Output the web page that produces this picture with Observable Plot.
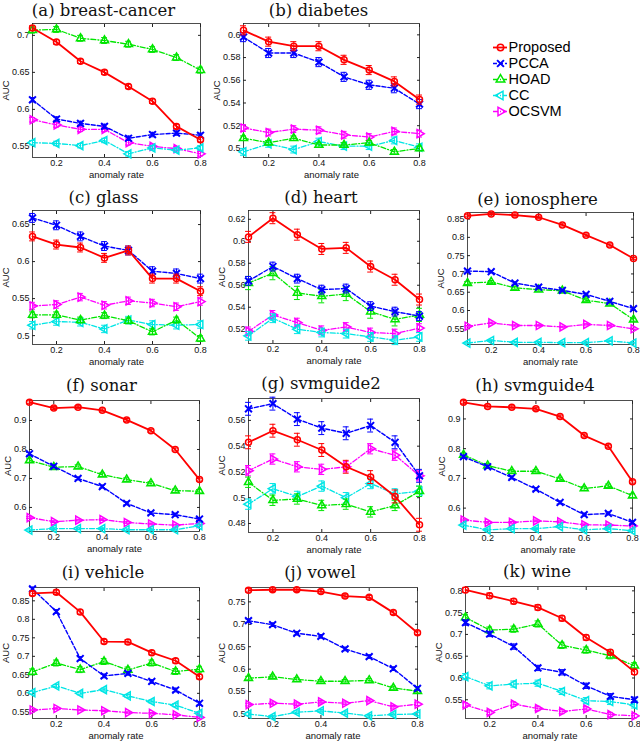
<!DOCTYPE html>
<html><head><meta charset="utf-8">
<script src="https://cdn.jsdelivr.net/npm/d3@7"></script>
<script src="https://cdn.jsdelivr.net/npm/@observablehq/plot@0.6"></script>
<style>
html,body{margin:0;padding:0;background:#fff;}
#chart{position:relative;width:640px;height:742px;overflow:hidden;background:#fff;}
#chart > div, #chart > svg{position:absolute;}
</style></head><body><div id="chart"></div>
<script>
// ---------- data ----------
const rates = [0.1, 0.2, 0.3, 0.4, 0.5, 0.6, 0.7, 0.8];
const xTicks = [0.2, 0.4, 0.6, 0.8];
const methods = ["Proposed", "PCCA", "HOAD", "CC", "OCSVM"];
const panelTitles = ["(a) breast-cancer", "(b) diabetes", "(c) glass", "(d) heart", "(e) ionosphere",
  "(f) sonar", "(g) svmguide2", "(h) svmguide4", "(i) vehicle", "(j) vowel", "(k) wine"];

// AUC values; rows follow `methods` order
const breastCancer = [
  [0.710, 0.691, 0.665, 0.650, 0.631, 0.611, 0.577, 0.559],
  [0.613, 0.587, 0.581, 0.577, 0.561, 0.566, 0.568, 0.565],
  [0.707, 0.708, 0.696, 0.693, 0.688, 0.681, 0.670, 0.653],
  [0.555, 0.554, 0.551, 0.558, 0.540, 0.548, 0.545, 0.548],
  [0.586, 0.579, 0.573, 0.573, 0.555, 0.550, 0.547, 0.540]];
const diabetes = [
  [0.604, 0.594, 0.590, 0.590, 0.578, 0.569, 0.559, 0.543],
  [0.598, 0.584, 0.584, 0.576, 0.563, 0.556, 0.553, 0.539],
  [0.509, 0.505, 0.509, 0.503, 0.503, 0.505, 0.497, 0.500],
  [0.497, 0.504, 0.499, 0.506, 0.502, 0.502, 0.507, 0.501],
  [0.518, 0.514, 0.517, 0.516, 0.512, 0.510, 0.515, 0.513]];
const glass = [
  [0.634, 0.623, 0.619, 0.605, 0.615, 0.577, 0.577, 0.560],
  [0.659, 0.649, 0.634, 0.621, 0.615, 0.587, 0.584, 0.577],
  [0.528, 0.528, 0.521, 0.527, 0.520, 0.505, 0.521, 0.496],
  [0.514, 0.519, 0.518, 0.509, 0.521, 0.515, 0.514, 0.515],
  [0.540, 0.542, 0.552, 0.541, 0.547, 0.544, 0.539, 0.546]];
const heart = [
  [0.604, 0.621, 0.606, 0.593, 0.594, 0.577, 0.565, 0.547],
  [0.564, 0.577, 0.566, 0.556, 0.557, 0.541, 0.536, 0.532],
  [0.562, 0.571, 0.553, 0.550, 0.552, 0.536, 0.529, 0.533],
  [0.514, 0.530, 0.520, 0.517, 0.516, 0.513, 0.510, 0.513],
  [0.518, 0.533, 0.526, 0.519, 0.522, 0.517, 0.516, 0.521]];
const ionosphere = [
  [0.859, 0.864, 0.861, 0.855, 0.834, 0.806, 0.779, 0.742],
  [0.708, 0.706, 0.675, 0.664, 0.655, 0.644, 0.625, 0.605],
  [0.675, 0.678, 0.662, 0.657, 0.654, 0.628, 0.619, 0.575],
  [0.511, 0.518, 0.513, 0.513, 0.512, 0.512, 0.517, 0.511],
  [0.557, 0.566, 0.559, 0.559, 0.555, 0.562, 0.559, 0.550]];
const sonar = [
  [0.963, 0.943, 0.946, 0.935, 0.902, 0.865, 0.800, 0.696],
  [0.785, 0.742, 0.700, 0.672, 0.614, 0.581, 0.575, 0.560],
  [0.762, 0.739, 0.741, 0.713, 0.696, 0.683, 0.658, 0.656],
  [0.522, 0.527, 0.527, 0.527, 0.523, 0.523, 0.523, 0.537],
  [0.565, 0.551, 0.556, 0.558, 0.548, 0.543, 0.539, 0.545]];
const svmguide2 = [
  [0.543, 0.552, 0.545, 0.537, 0.524, 0.516, 0.501, 0.479],
  [0.569, 0.573, 0.561, 0.554, 0.550, 0.556, 0.543, 0.517],
  [0.512, 0.498, 0.499, 0.494, 0.495, 0.489, 0.494, 0.505],
  [0.495, 0.507, 0.501, 0.509, 0.500, 0.511, 0.503, 0.505],
  [0.521, 0.530, 0.524, 0.522, 0.524, 0.538, 0.533, 0.517]];
const svmguide4 = [
  [0.956, 0.942, 0.939, 0.934, 0.908, 0.844, 0.808, 0.689],
  [0.773, 0.739, 0.703, 0.664, 0.619, 0.578, 0.582, 0.552],
  [0.779, 0.743, 0.724, 0.724, 0.698, 0.666, 0.675, 0.642],
  [0.543, 0.527, 0.531, 0.531, 0.538, 0.527, 0.531, 0.524],
  [0.560, 0.552, 0.552, 0.557, 0.554, 0.544, 0.543, 0.540]];
const vehicle = [
  [0.870, 0.873, 0.820, 0.740, 0.739, 0.710, 0.688, 0.645],
  [0.882, 0.821, 0.694, 0.647, 0.654, 0.632, 0.609, 0.573],
  [0.658, 0.682, 0.664, 0.686, 0.663, 0.682, 0.659, 0.665],
  [0.602, 0.620, 0.600, 0.610, 0.593, 0.578, 0.568, 0.546],
  [0.555, 0.559, 0.555, 0.553, 0.548, 0.546, 0.542, 0.535]];
const vowel = [
  [0.776, 0.777, 0.777, 0.773, 0.763, 0.760, 0.726, 0.681],
  [0.708, 0.699, 0.680, 0.673, 0.645, 0.628, 0.601, 0.557],
  [0.580, 0.583, 0.577, 0.573, 0.573, 0.575, 0.558, 0.551],
  [0.500, 0.494, 0.504, 0.507, 0.502, 0.496, 0.499, 0.500],
  [0.521, 0.524, 0.522, 0.527, 0.524, 0.530, 0.516, 0.522]];
const wine = [
  [0.802, 0.789, 0.776, 0.762, 0.737, 0.693, 0.659, 0.614],
  [0.727, 0.701, 0.672, 0.623, 0.613, 0.582, 0.558, 0.550],
  [0.739, 0.710, 0.712, 0.724, 0.675, 0.664, 0.651, 0.628],
  [0.603, 0.582, 0.586, 0.588, 0.569, 0.548, 0.546, 0.538],
  [0.538, 0.521, 0.540, 0.530, 0.523, 0.529, 0.516, 0.513]];

// error bar half-widths per panel, per method
const errBars = [
  [0.003, 0.003, 0.004, 0.003, 0.003],
  [0.004, 0.004, 0.002, 0.003, 0.003],
  [0.006, 0.006, 0.004, 0.005, 0.005],
  [0.005, 0.004, 0.006, 0.004, 0.004],
  [0.003, 0.003, 0.004, 0.002, 0.002],
  [0.005, 0.005, 0.006, 0.003, 0.003],
  [0.005, 0.005, 0.004, 0.004, 0.004],
  [0.005, 0.005, 0.006, 0.003, 0.003],
  [0.006, 0.005, 0.008, 0.004, 0.002],
  [0.004, 0.004, 0.004, 0.003, 0.003],
  [0.006, 0.006, 0.007, 0.007, 0.005]];

// y axis limits and tick values
const yLimits = [[0.535, 0.716], [0.492, 0.610], [0.488, 0.669], [0.507, 0.628], [0.507, 0.868],
  [0.517, 0.969], [0.473, 0.577], [0.518, 0.962], [0.532, 0.886], [0.490, 0.782], [0.507, 0.810]];
const yTickValues = [
  [0.55, 0.6, 0.65, 0.7],
  [0.5, 0.52, 0.54, 0.56, 0.58, 0.6],
  [0.5, 0.55, 0.6, 0.65],
  [0.52, 0.54, 0.56, 0.58, 0.6, 0.62],
  [0.55, 0.6, 0.65, 0.7, 0.75, 0.8, 0.85],
  [0.6, 0.7, 0.8, 0.9],
  [0.48, 0.5, 0.52, 0.54, 0.56],
  [0.6, 0.7, 0.8, 0.9],
  [0.55, 0.6, 0.65, 0.7, 0.75, 0.8, 0.85],
  [0.5, 0.55, 0.6, 0.65, 0.7, 0.75],
  [0.55, 0.6, 0.65, 0.7, 0.75, 0.8]];

const panelData = [breastCancer, diabetes, glass, heart, ionosphere, sonar, svmguide2, svmguide4, vehicle, vowel, wine];

// ---------- layout & style ----------
const frames = [ // plot area [left, top, right, bottom] in page pixels
  [32, 23, 200, 157], [243, 23, 419, 157],
  [32, 210, 200, 344], [248, 210, 419, 343], [467, 212, 633, 344],
  [29, 400, 199, 531], [248, 398, 419, 532], [463, 400, 632, 532],
  [32, 587, 199, 718], [248, 587, 417, 718], [465, 586, 634, 718]];
const colors = ["#ff0000", "#0000ff", "#00e600", "#00e5e5", "#ff00ff"];
const dashes = [null, "4,2", "5,2,1,2", "5,2,1,2", "5,2,1,2"];
const lineWidths = [1.8, 1.4, 1.3, 1.3, 1.3];
const sqrt3 = Math.sqrt(3);
const triRight = {draw(c, size) { const s = Math.sqrt(size / (sqrt3 * 3)); c.moveTo(2 * s, 0); c.lineTo(-s, -sqrt3 * s); c.lineTo(-s, sqrt3 * s); c.closePath(); }};
const triLeft = {draw(c, size) { const s = Math.sqrt(size / (sqrt3 * 3)); c.moveTo(-2 * s, 0); c.lineTo(s, -sqrt3 * s); c.lineTo(s, sqrt3 * s); c.closePath(); }};
const symbols = ["circle", "times", "triangle", triLeft, triRight];
const FONT = "'Liberation Sans', Arial, Helvetica, sans-serif";
const SERIF = "'DejaVu Serif', serif";
const CAP = 0.012;

const chart = document.getElementById("chart");
const textW = s => [...s].reduce((a, c) => a + (c === "." ? 2.5 : 5.0), 0);

function makePanel(i) {
  const [L, T, R, B] = frames[i];
  const ML = 42, MR = 10, MT = 32, MB = 30;
  const yt = yTickValues[i];
  const labW = Math.max(...yt.map(v => textW(String(v))));
  const marks = [
    Plot.frame({stroke: "#222", strokeWidth: 0.8}),
    Plot.axisX(xTicks, {tickSize: 0, tickPadding: 2, tickFormat: d => String(d), label: null, fontSize: 9}),
    Plot.axisX(xTicks, {tickSize: -3, text: null, label: null, stroke: "#222"}),
    Plot.axisX(xTicks, {anchor: "top", tickSize: -3, text: null, label: null, stroke: "#222"}),
    Plot.axisY(yt, {tickSize: 0, tickPadding: 3, tickFormat: d => String(d), label: null, fontSize: 9}),
    Plot.axisY(yt, {tickSize: -3, text: null, label: null, stroke: "#222"}),
    Plot.axisY(yt, {anchor: "right", tickSize: -3, text: null, label: null, stroke: "#222"}),
    Plot.text([panelTitles[i]], {frameAnchor: "top", text: d => d, dy: i < 5 ? -13 : -15, dx: -13,
      fontFamily: SERIF, fontSize: 16.5, lineAnchor: "middle", fill: "#111"}),
    Plot.text(["anomaly rate"], {frameAnchor: "bottom", text: d => d, dy: 17.5, lineAnchor: "middle", fill: "#111", fontSize: 9.5}),
    Plot.text(["AUC"], {frameAnchor: "left", text: d => d, rotate: -90, dx: -(3 + labW + 6),
      lineAnchor: "middle", textAnchor: "middle", fill: "#111", fontSize: 9.5})
  ];
  for (let m = methods.length - 1; m >= 0; m--) {
    const err = errBars[i][m];
    const rows = panelData[i][m].map((v, k) => ({rate: rates[k], auc: v, lo: v - err, hi: v + err}));
    const st = {stroke: colors[m], strokeWidth: 1};
    marks.push(
      Plot.line(rows, {x: "rate", y: "auc", stroke: colors[m], strokeWidth: lineWidths[m], strokeDasharray: dashes[m]}),
      Plot.ruleX(rows, {x: "rate", y1: "lo", y2: "hi", ...st}),
      Plot.ruleY(rows, {y: "lo", x1: d => d.rate - CAP, x2: d => d.rate + CAP, ...st}),
      Plot.ruleY(rows, {y: "hi", x1: d => d.rate - CAP, x2: d => d.rate + CAP, ...st}),
      Plot.dot(rows, {x: "rate", y: "auc", symbol: symbols[m], r: m === 1 ? 3.2 : 3, stroke: colors[m],
        fill: "none", strokeWidth: m === 1 ? 2 : 1.5})
    );
  }
  const svg = Plot.plot({
    width: (R - L) + ML + MR, height: (B - T) + MT + MB,
    marginLeft: ML, marginRight: MR, marginTop: MT, marginBottom: MB,
    x: {domain: [0.1, 0.8]},
    y: {domain: yLimits[i]},
    style: {fontFamily: FONT, fontSize: "9px", background: "transparent", overflow: "visible", color: "#111"},
    marks
  });
  svg.style.position = "absolute";
  svg.style.left = (L - ML) + "px";
  svg.style.top = (T - MT) + "px";
  chart.appendChild(svg);
}
panelData.forEach((_, i) => makePanel(i));

// legend
const legendMarks = [];
methods.forEach((name, m) => {
  legendMarks.push(
    Plot.ruleY([name], {y: d => d, x1: 8, x2: 22, stroke: colors[m], strokeWidth: lineWidths[m], strokeDasharray: dashes[m]}),
    Plot.dot([name], {x: 15, y: d => d, symbol: symbols[m], r: 3.2, stroke: colors[m], fill: "none", strokeWidth: m === 1 ? 2 : 1.5}),
    Plot.text([name], {x: 23, y: d => d, text: d => d, textAnchor: "start", fontSize: 14.5, fill: "#000"})
  );
});
const legend = Plot.plot({
  width: 130, height: 104, margin: 0,
  x: {domain: [0, 130], range: [0, 130]},
  y: {type: "point", domain: methods, range: [9, 93]},
  axis: null,
  style: {fontFamily: FONT, background: "transparent", overflow: "visible"},
  marks: legendMarks
});
legend.style.position = "absolute";
legend.style.left = "485px";
legend.style.top = "28px";
chart.appendChild(legend);
</script></body></html>
